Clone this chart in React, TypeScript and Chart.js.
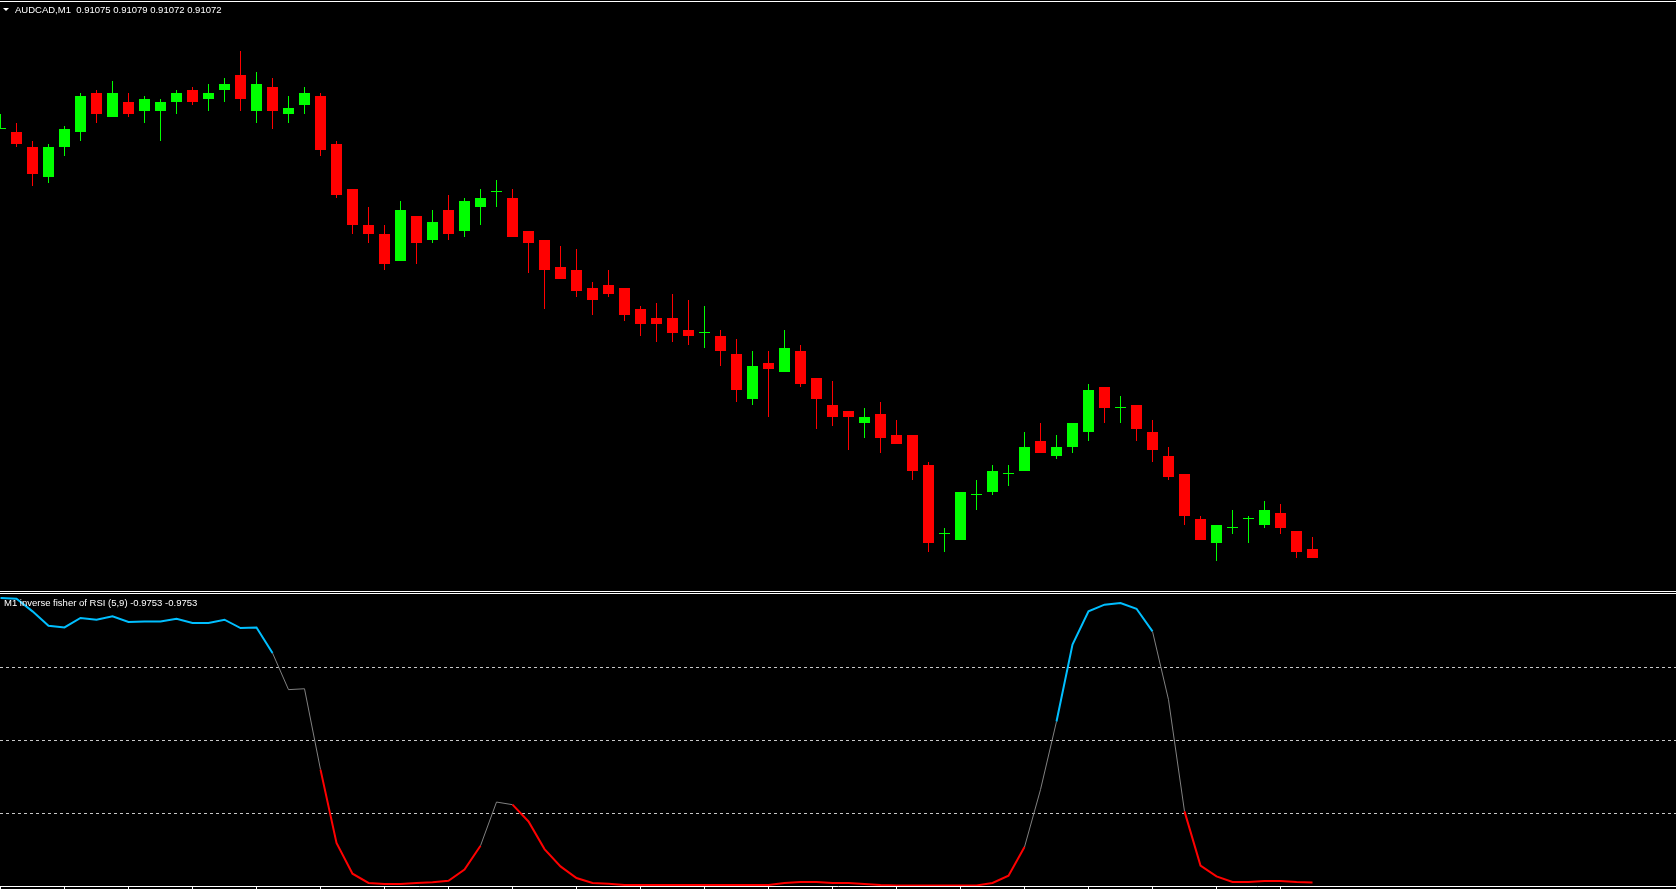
import { useEffect, useRef } from "react";
import { Chart, registerables } from "chart.js";

Chart.register(...registerables);

// ---------- data ----------
const symbolTitle = "AUDCAD,M1";
const lastQuote = ["0.91075", "0.91079", "0.91072", "0.91072"];
const indicatorTitle = "M1 inverse fisher of RSI (5,9)";
const indicatorReadout = ["-0.9753", "-0.9753"];

const opens = [
  0.91215, 0.91214, 0.91209, 0.91199, 0.91209, 0.91214, 0.91227, 0.91219, 0.91224, 0.91221,
  0.91221, 0.91224, 0.91228, 0.91225, 0.91228, 0.91233, 0.91221, 0.91229, 0.9122, 0.91223,
  0.91226, 0.9121, 0.91195, 0.91183, 0.9118, 0.91171, 0.91186, 0.91178, 0.91188, 0.91181,
  0.91189, 0.91194, 0.91192, 0.91181, 0.91178, 0.91169, 0.91168, 0.91162, 0.91163, 0.91162,
  0.91155, 0.91152, 0.91152, 0.91148, 0.91147, 0.91146, 0.9114, 0.91125, 0.91137, 0.91134,
  0.91141, 0.91132, 0.91123, 0.91121, 0.91117, 0.9112, 0.91113, 0.91113, 0.91103, 0.9108,
  0.91078, 0.91093, 0.91094, 0.911, 0.91101, 0.91111, 0.91106, 0.91109, 0.91114, 0.91129,
  0.91122, 0.91123, 0.91114, 0.91106, 0.911, 0.91085, 0.91077, 0.91082, 0.91085, 0.91083,
  0.91087, 0.91081, 0.91075,
];
const highs = [
  0.9122, 0.91217, 0.91211, 0.9121, 0.91216, 0.91227, 0.91228, 0.91231, 0.91227, 0.91226,
  0.91225, 0.91228, 0.91229, 0.9123, 0.91232, 0.91241, 0.91234, 0.91232, 0.91226, 0.91229,
  0.91227, 0.91211, 0.91195, 0.91189, 0.91183, 0.91191, 0.91186, 0.91188, 0.91193, 0.91192,
  0.91195, 0.91198, 0.91195, 0.91181, 0.91178, 0.91176, 0.91175, 0.91164, 0.91168, 0.91162,
  0.91156, 0.91157, 0.9116, 0.91158, 0.91156, 0.91148, 0.91145, 0.91141, 0.91141, 0.91148,
  0.91143, 0.91132, 0.91131, 0.91121, 0.91122, 0.91124, 0.91118, 0.91113, 0.91104, 0.91082,
  0.91094, 0.91098, 0.91103, 0.91103, 0.91114, 0.91117, 0.91113, 0.91117, 0.9113, 0.91129,
  0.91126, 0.91123, 0.91118, 0.91109, 0.911, 0.91086, 0.91083, 0.91088, 0.91086, 0.91091,
  0.9109, 0.91081, 0.91079,
];
const lows = [
  0.91215, 0.91209, 0.91196, 0.91197, 0.91206, 0.91211, 0.91217, 0.91219, 0.91219, 0.91217,
  0.91211, 0.9122, 0.91223, 0.91221, 0.91224, 0.91221, 0.91217, 0.91215, 0.91217, 0.9122,
  0.91206, 0.91192, 0.9118, 0.91177, 0.91168, 0.91171, 0.9117, 0.91177, 0.91178, 0.91179,
  0.91183, 0.91189, 0.91179, 0.91167, 0.91155, 0.91165, 0.91159, 0.91153, 0.91159, 0.91151,
  0.91146, 0.91144, 0.91144, 0.91143, 0.91142, 0.91136, 0.91124, 0.91123, 0.91119, 0.91134,
  0.91129, 0.91115, 0.91116, 0.91108, 0.91112, 0.91107, 0.9111, 0.91098, 0.91074, 0.91074,
  0.91078, 0.91088, 0.91093, 0.91096, 0.91101, 0.91107, 0.91105, 0.91107, 0.91111, 0.91117,
  0.91117, 0.91111, 0.91104, 0.91098, 0.91083, 0.91078, 0.91071, 0.9108, 0.91077, 0.91082,
  0.9108, 0.91072, 0.91072,
];
const closes = [
  0.91215, 0.9121, 0.912, 0.91209, 0.91215, 0.91226, 0.9122, 0.91227, 0.9122, 0.91225,
  0.91224, 0.91227, 0.91224, 0.91227, 0.9123, 0.91225, 0.9123, 0.91221, 0.91222, 0.91227,
  0.91208, 0.91193, 0.91183, 0.9118, 0.9117, 0.91188, 0.91177, 0.91184, 0.9118, 0.91191,
  0.91192, 0.91194, 0.91179, 0.91177, 0.91168, 0.91165, 0.91161, 0.91158, 0.9116, 0.91153,
  0.9115, 0.9115, 0.91147, 0.91146, 0.91147, 0.91141, 0.91128, 0.91136, 0.91135, 0.91142,
  0.9113, 0.91125, 0.91119, 0.91119, 0.91119, 0.91112, 0.9111, 0.91101, 0.91077, 0.9108,
  0.91094, 0.91093, 0.91101, 0.911, 0.91109, 0.91107, 0.91109, 0.91117, 0.91128, 0.91122,
  0.91122, 0.91115, 0.91108, 0.91099, 0.91086, 0.91078, 0.91083, 0.91082, 0.91085, 0.91088,
  0.91082, 0.91074, 0.91072,
];

const ifishValues = [
  0.973, 0.968, 0.881, 0.783, 0.771, 0.836, 0.824, 0.847, 0.808, 0.812,
  0.812, 0.831, 0.801, 0.801, 0.824, 0.767, 0.771, 0.596, 0.345, 0.351,
  -0.203, -0.705, -0.916, -0.979, -0.986, -0.986, -0.979, -0.975, -0.964, -0.888,
  -0.724, -0.425, -0.443, -0.558, -0.747, -0.866, -0.945, -0.979, -0.984, -0.993,
  -0.993, -0.993, -0.993, -0.993, -0.993, -0.993, -0.993, -0.993, -0.993, -0.979,
  -0.973, -0.973, -0.979, -0.979, -0.986, -0.993, -0.996, -0.996, -0.996, -0.996,
  -0.996, -0.996, -0.979, -0.929, -0.733, -0.34, 0.127, 0.653, 0.881, 0.927,
  0.938, 0.899, 0.744, 0.276, -0.489, -0.86, -0.934, -0.973, -0.973, -0.966,
  -0.966, -0.973, -0.9753,
];

const levelValues = [0.5, 0, -0.5];
const upperLevel = 0.5;
const lowerLevel = -0.5;
const timeTickStep = 4;

// ---------- view / scale settings ----------
const W = 1676;
const BAR_SPACING = 16;
const X_MIN = -1 / 32;
const X_MAX = X_MIN + W / BAR_SPACING;
const PRICE_MAX = 0.91258;
const PRICE_MIN = 0.91061;

const BULL = "#00ff00";
const BEAR = "#ff0000";
const UP_LINE = "#00bfff";
const DOWN_LINE = "#ff0000";
const MID_LINE = "#808080";

const FONT = '"Liberation Sans", Arial, sans-serif';

export default function App() {
  const topRef = useRef<HTMLCanvasElement>(null);
  const botRef = useRef<HTMLCanvasElement>(null);

  useEffect(() => {
    document.body.style.margin = "0";
    document.body.style.background = "#000";

    const idx = closes.map((_, i) => i);
    const colors = idx.map((i) => (closes[i] >= opens[i] ? BULL : BEAR));
    const bodyData = idx.map((i) => ({ x: i, y: [opens[i], closes[i]] }));
    const wickData = idx.map((i) => ({ x: i, y: [lows[i], highs[i]] }));

    const top = new Chart(topRef.current as HTMLCanvasElement, {
      type: "bar",
      data: {
        datasets: [
          {
            data: bodyData as any,
            backgroundColor: colors,
            barThickness: 11,
            minBarLength: 1,
            grouped: false,
            borderWidth: 0,
            inflateAmount: 0,
          } as any,
          {
            data: wickData as any,
            backgroundColor: colors,
            barThickness: 1,
            grouped: false,
            borderWidth: 0,
            inflateAmount: 0,
          } as any,
        ],
      },
      options: {
        animation: false,
        responsive: false,
        events: [],
        layout: { padding: 0 },
        plugins: { legend: { display: false }, tooltip: { enabled: false } },
        scales: {
          x: { type: "linear", min: X_MIN, max: X_MAX, offset: false, bounds: "data", display: false },
          y: { type: "linear", min: PRICE_MIN, max: PRICE_MAX, bounds: "data", display: false },
        },
      } as any,
    });

    const timeTicks = idx.filter((i) => i % timeTickStep === 0);
    const segColor = (v: number) => (v > upperLevel ? UP_LINE : v < lowerLevel ? DOWN_LINE : MID_LINE);
    const segWidth = (v: number) => (v > upperLevel || v < lowerLevel ? 2 : 1);

    const bottom = new Chart(botRef.current as HTMLCanvasElement, {
      type: "line",
      data: {
        datasets: [
          {
            data: ifishValues.map((v, i) => ({ x: i, y: v })),
            pointRadius: 0,
            borderColor: MID_LINE,
            borderWidth: 1,
            tension: 0,
            segment: {
              borderColor: (c: any) => segColor(c.p1.parsed.y),
              borderWidth: (c: any) => segWidth(c.p1.parsed.y),
            },
          } as any,
        ],
      },
      options: {
        animation: false,
        responsive: false,
        events: [],
        layout: { padding: 0 },
        plugins: { legend: { display: false }, tooltip: { enabled: false } },
        scales: {
          x: {
            type: "linear",
            min: X_MIN,
            max: X_MAX,
            offset: false,
            bounds: "data",
            grid: { display: true, drawOnChartArea: false, drawTicks: true, tickLength: 3, color: "#ffffff", lineWidth: 1 },
            border: { display: true, color: "#ffffff", width: 1 },
            ticks: { display: false },
            afterBuildTicks: (s: any) => {
              s.ticks = timeTicks.map((v) => ({ value: v }));
            },
          },
          y: {
            type: "linear",
            min: -1,
            max: 1,
            bounds: "data",
            grid: { display: true, drawOnChartArea: true, drawTicks: false, color: "#c8c8c8", lineWidth: 1 },
            border: { display: false, dash: [3, 3] },
            ticks: { display: false },
            afterBuildTicks: (s: any) => {
              s.ticks = levelValues.map((v) => ({ value: v }));
            },
          },
        },
      } as any,
    });

    return () => {
      top.destroy();
      bottom.destroy();
    };
  }, []);

  const line = (y: number): React.CSSProperties => ({
    position: "absolute",
    left: 0,
    top: y,
    width: W,
    height: 1,
    background: "#ffffff",
  });

  return (
    <div style={{ position: "relative", width: W, height: 889, background: "#000", overflow: "hidden" }}>
      <canvas ref={topRef} width={W} height={591} style={{ position: "absolute", left: 0, top: 0 }} />
      <canvas ref={botRef} width={W} height={295} style={{ position: "absolute", left: 0, top: 594 }} />
      <div style={line(1)} />
      <div style={line(591)} />
      <div style={line(593)} />
      <div
        style={{
          position: "absolute",
          left: 3,
          top: 8,
          width: 0,
          height: 0,
          borderLeft: "3px solid transparent",
          borderRight: "3px solid transparent",
          borderTop: "3px solid #ffffff",
        }}
      />
      <div
        style={{
          position: "absolute",
          left: 15,
          top: 5,
          color: "#ffffff",
          font: `9.5px ${FONT}`,
          lineHeight: "10px",
          whiteSpace: "pre",
        }}
      >
        {`${symbolTitle}  ${lastQuote.join(" ")}`}
      </div>
      <div
        style={{
          position: "absolute",
          left: 4,
          top: 598,
          color: "#ffffff",
          font: `9.5px ${FONT}`,
          lineHeight: "10px",
          whiteSpace: "pre",
        }}
      >
        {`${indicatorTitle} ${indicatorReadout.join(" ")}`}
      </div>
    </div>
  );
}
